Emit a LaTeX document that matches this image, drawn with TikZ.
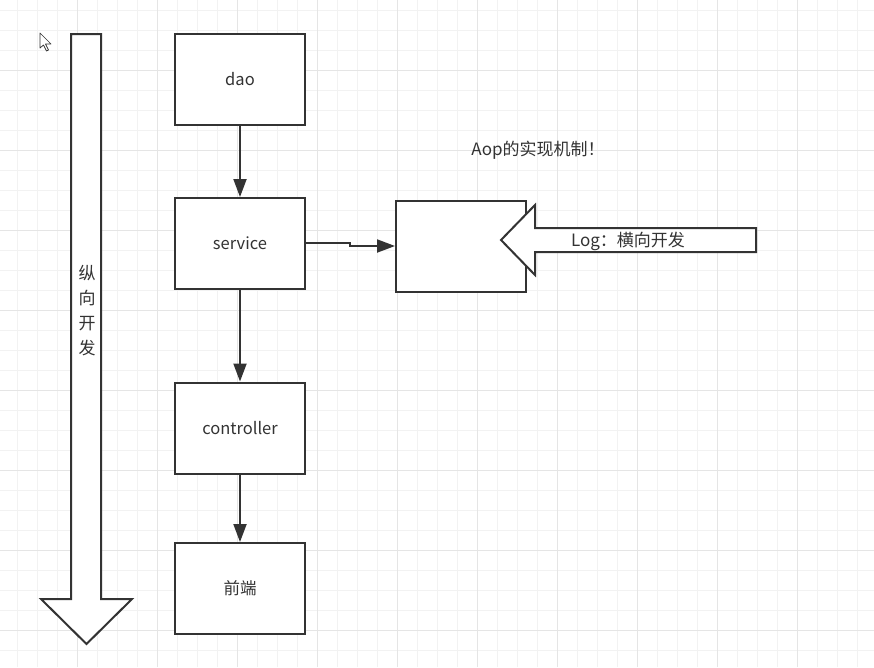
\documentclass[tikz,border=0pt]{standalone}
\usepackage{fontspec}
\setmainfont{Noto Sans CJK SC}
\usetikzlibrary{arrows.meta}
\definecolor{ink}{HTML}{333333}
\definecolor{gridminor}{HTML}{F2F2F2}
\definecolor{gridmajor}{HTML}{E5E5E5}
\tikzset{
  box/.style={draw=ink, line width=2pt, fill=white, minimum width=130pt, minimum height=91pt, inner sep=0pt, text=ink, font=\fontsize{16.5}{19}\selectfont},
  flow/.style={draw=ink, line width=2pt, -{Triangle[length=18pt,width=13pt]}},
  bigarrow/.style={draw=ink, line width=2pt, fill=white, line join=miter},
  lbl/.style={text=ink, font=\fontsize{17}{20}\selectfont, inner sep=0pt},
}
\begin{document}
\begin{tikzpicture}[x=1pt,y=-1pt]
\useasboundingbox (0,0) rectangle (874,667);
\fill[white] (0,0) rectangle (874,667);
% grid
\foreach \gx in {17,37,...,874} \draw[gridminor, line width=1pt] (\gx,0) -- (\gx,667);
\foreach \gy in {10,30,...,667} \draw[gridminor, line width=1pt] (0,\gy) -- (874,\gy);
\foreach \gx in {77,157,...,874} \draw[gridmajor, line width=1pt] (\gx,0) -- (\gx,667);
\foreach \gy in {70,150,...,667} \draw[gridmajor, line width=1pt] (0,\gy) -- (874,\gy);
% cursor
\draw[ink, fill=white, line width=0.7pt, line join=round] (40,33) -- (40,48) -- (43.5,45) -- (46.5,51) -- (48.5,50) -- (45.5,44) -- (51,44) -- cycle;
% vertical big arrow
\draw[bigarrow] (71,34) -- (101,34) -- (101,599) -- (132,599) -- (86.5,644) -- (41,599) -- (71,599) -- cycle;
\node[lbl, align=center, font=\fontsize{17}{25}\selectfont] (zong) at (87,311) {纵\\向\\开\\发};
% boxes
\node[box] (dao) at (240,79.5) {dao};
\node[box] (service) at (240,243.5) {service};
\node[box] (controller) at (240,428) {controller};
\node[box] (front) at (240,588.5) {前端};
\node[box] (aop) at (461,246) {};
% connectors
\draw[flow] (dao.south) -- (service.north);
\draw[flow] (service.south) -- (controller.north);
\draw[flow] (controller.south) -- (front.north);
\coordinate (j1) at (350,243);
\coordinate (j2) at (350,246);
\draw[flow] (service.east |- j1) -- (j1) -- (j2) -- (aop.west |- j2);
% left big arrow
\draw[bigarrow] (756,228) -- (535,228) -- (535,205) -- (501,240) -- (535,275) -- (535,252) -- (756,252) -- cycle;
\node[lbl] (log) at (628,241) {Log：横向开发};
\node[lbl] (title) at (538,150) {Aop的实现机制！};
\end{tikzpicture}
\end{document}
